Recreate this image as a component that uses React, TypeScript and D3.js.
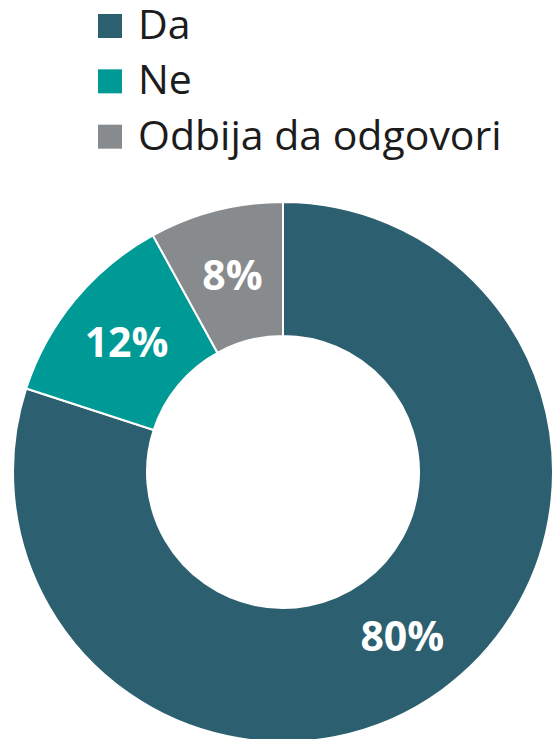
import * as React from 'react'
import * as d3 from 'd3'

const width = 553
const height = 739
const categories = ['Da', 'Ne', 'Odbija da odgovori']
const values = [80, 12, 8]
const colors = ['#2c6070', '#009a96', '#888b8e']

const cx = 283
const cy = 472
const outerR = 270
const innerR = 136
const font = '"Open Sans", "Noto Sans", sans-serif'

const App = () => {
  const pie = d3.pie<number>().sort(null).value(d => d)
  const arcs = pie(values)
  const arc = d3.arc<d3.PieArcDatum<number>>().innerRadius(innerR).outerRadius(outerR)

  const legendY = d3.scaleBand().domain(categories).range([14, 180]).paddingInner(0)

  return (
    <svg
      width={width}
      height={height}
      style={{ position: 'absolute', left: 0, top: 0, fontFamily: font }}
    >
      <g transform={`translate(${cx}, ${cy})`}>
        {arcs.map((a, i) => (
          <path key={i} d={arc(a) || ''} fill={colors[i]} stroke="#fff" strokeWidth={2} />
        ))}
        {arcs.map((a, i) => {
          const [x, y] = arc.centroid(a)
          return (
            <text
              key={i}
              x={x}
              y={y}
              dy="0.36em"
              textAnchor="middle"
              fill="#fff"
              fontWeight={700}
              fontSize={41}
            >
              {values[i]}%
            </text>
          )
        })}
      </g>
      <g>
        {categories.map((c, i) => {
          const y0 = legendY(c) || 0
          return (
            <g key={c} transform={`translate(98, ${y0})`}>
              <rect x={0} y={0} width={24} height={24} fill={colors[i]} />
              <text x={40} y={25} fontSize={41} fill="#1c1c1c">
                {c}
              </text>
            </g>
          )
        })}
      </g>
    </svg>
  )
}

export default App
